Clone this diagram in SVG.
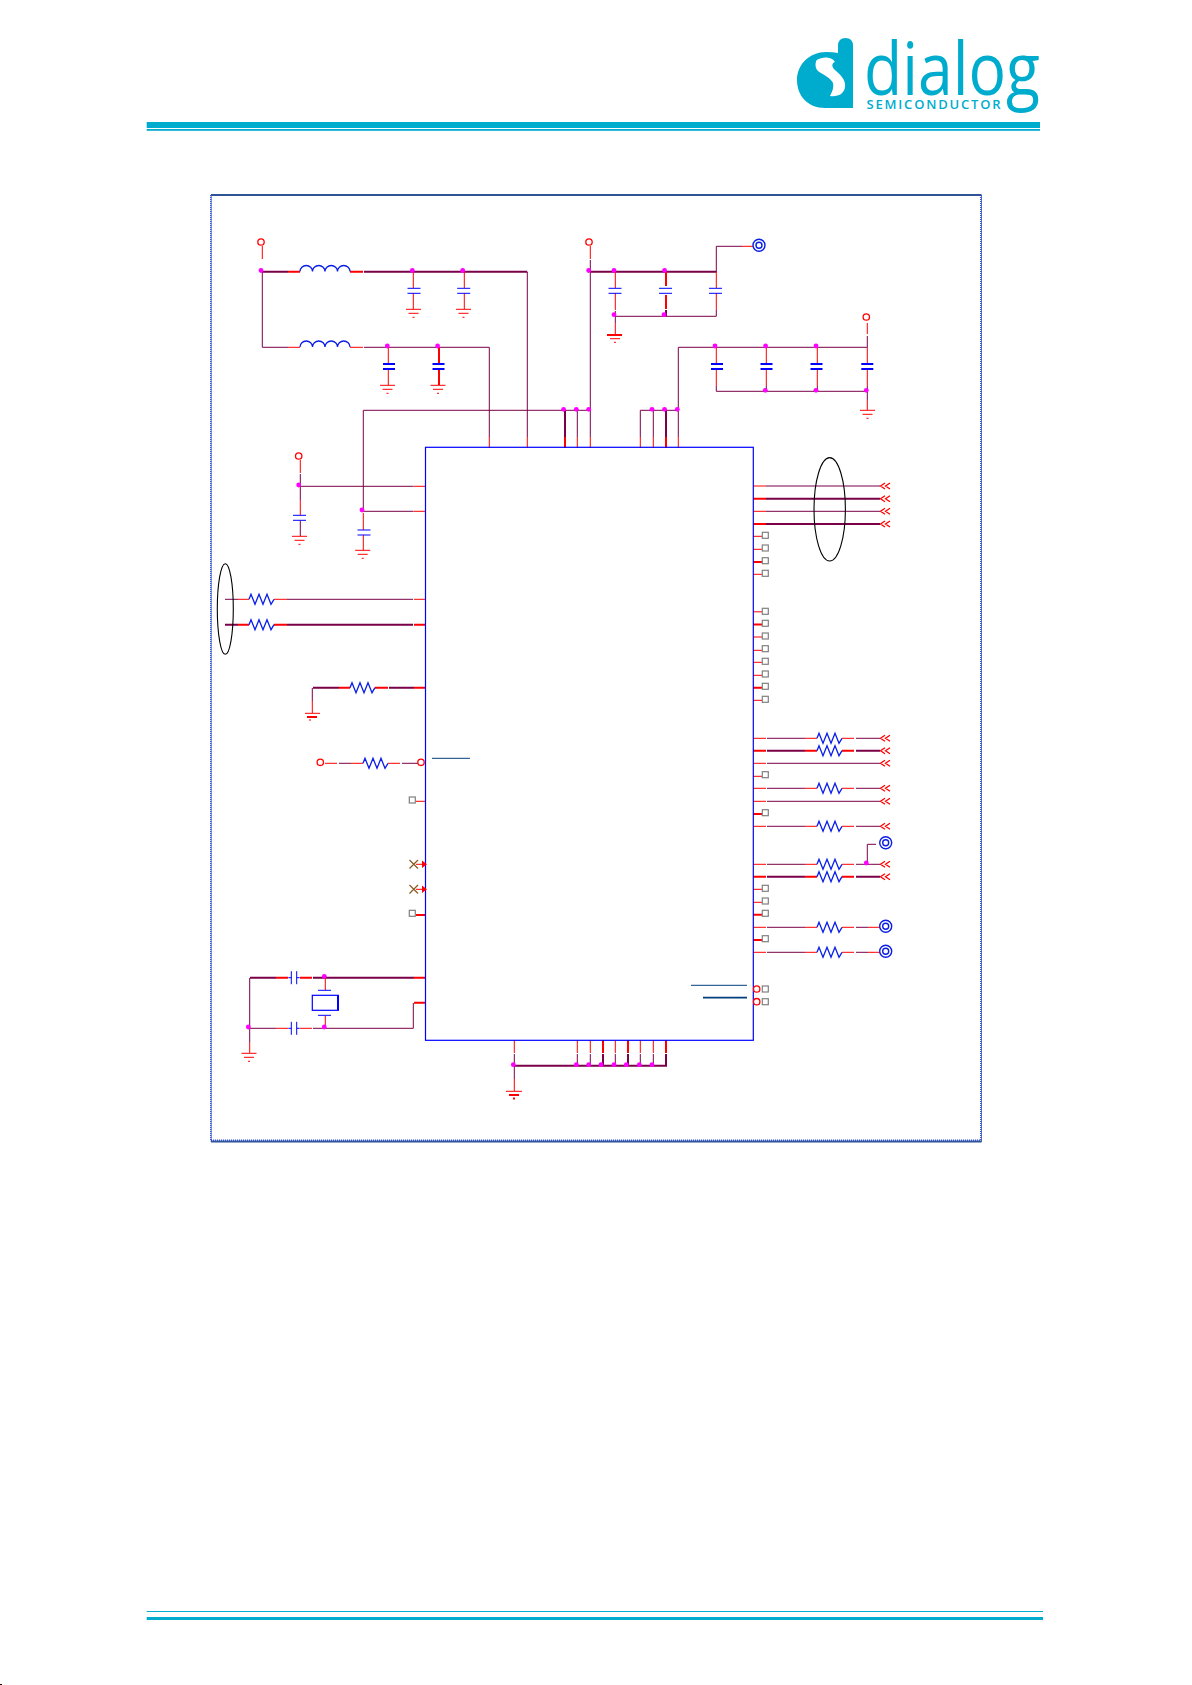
<svg xmlns="http://www.w3.org/2000/svg" xmlns:xlink="http://www.w3.org/1999/xlink" width="1192" height="1685" viewBox="0 0 1192 1685">
<style>
path,line,rect,circle,ellipse{fill:none}
.w{stroke:#7a0048;stroke-width:1}
.W{stroke:#7a0048;stroke-width:2}
.r{stroke:#f00;stroke-width:1}
.R{stroke:#f00;stroke-width:2}
.b{stroke:#00f;stroke-width:1}
.B{stroke:#00f;stroke-width:2}
.z{stroke:#0a1ee6;stroke-width:1.3}
.dot{fill:#f0f;stroke:none}
.term{stroke:#f00;stroke-width:1.3;fill:#fff}
.sq{stroke:#808080;stroke-width:1.2;fill:#fff}
.nb{stroke:#003f7f}
.teal{fill:#00acce}
.ell{stroke:#000;stroke-width:1.1}
</style>
<defs>
<path id="res" class="z" d="M0 0L2 -5L6 5L10 -5L14 5L18 -5L22 5L25 0"/>
<path id="ind" class="z" d="M0 0a6.25 6 0 0 1 12.5 0a6.25 6 0 0 1 12.5 0a6.25 6 0 0 1 12.5 0a6.25 6 0 0 1 12.5 0"/>
<path id="cap" class="b" d="M-6.5 0H6.5M-6.5 5H6.5"/>
<path id="capT" class="B" d="M-6 0H6M-6 5H6"/>
<path id="capH" class="b" d="M0 -6.5V6.5M5.4 -6.5V6.5M-3 0H0M5.4 0H8.4"/>
<path id="gnd" class="r" d="M-7.5 0H7.5M-5 4H5M-1 8H1"/>
<path id="chev" class="r" style="stroke-width:1.3" d="M5 -3L0.5 0L5 3M10 -3L5.5 0L10 3"/>
<g id="tgt"><circle class="z" r="6" style="stroke-width:1.4"/><circle class="z" r="3" style="stroke-width:1.4"/></g>
<rect id="sq" class="sq" x="-3" y="-3" width="6" height="6"/>
</defs>

<g id="header">
<rect class="teal" x="146.7" y="122" width="893.3" height="6"/>
<rect class="teal" x="146.7" y="129" width="893.3" height="1.8"/>
</g>
<g id="logo">
<path class="teal" fill-rule="evenodd" d="M838 46Q838 38 845.5 38Q853 38 853 46V108H825C808 108 797 96 797 80C797 64 810 52 826 52Q833 52 838 53ZM816.7 60C822 57 831 56 835 62C831 63 832 68 835 70C842 76 846 81 845 87C844 94 838 97 830 96C832 92 834 88 833 83C831 78 822 74 818 71C815 68 815 63 816.7 60Z"/>
<text class="teal" x="864" y="95" font-family="'Open Sans',sans-serif" font-size="73" textLength="176" lengthAdjust="spacingAndGlyphs">dialog</text>
<text class="teal" x="866.5" y="109.3" font-family="'Open Sans',sans-serif" font-size="13" font-weight="600" textLength="134" lengthAdjust="spacing">SEMICONDUCTOR</text>
</g>
<g id="footer">
<rect class="teal" x="146.7" y="1611" width="896.3" height="1"/>
<rect class="teal" x="146.7" y="1617" width="896.3" height="3"/>
<rect x="0" y="1684" width="2" height="1" style="fill:#200"/>
</g>
<g id="frame">
<path d="M211 195H981.5M211 1141.5H981.5" stroke="#2f5496" stroke-width="2"/>
<path d="M211.2 195V1142M981.5 195V1142" stroke="#2f5496" stroke-width="0.8"/>
<path d="M210.8 195V1141M980.7 195V1141M211 1140.2H981" stroke="#1a3fe8" stroke-width="1.2" stroke-dasharray="1 1"/>
</g>

<g id="connectors">
<path class="w" d="M262.3 272V347.3H288M364 347.3H489.3V437M527.3 272V437M363.3 511.3V410.3H590.3M590.3 260V437M577.3 410.3V437M640.3 437V410.3H678.3M653.3 410.3V437M678.3 437V347.3H867.3M867.3 336V347.3M716.3 272V246.3H742M615.3 316.3H716.3V310M716.3 391.3H867.3M615.3 311V323M716.3 386V391.3M766.3 386V391.3M817.3 386V391.3M867.3 386V400"/>
<path class="W" d="M262.3 271.7H288M364 271.7H527.3M590.3 271.7H716.3M565 410.3V437M666 410.3V437M666 310V316"/>
<path class="r" d="M262.3 246V259M590.3 246V259M867.3 323V334M489.3 437V448M527.3 437V448M577.3 437V448M590.3 437V448M640.3 437V448M653.3 437V448M678.3 437V448M742 246.3H753M413.3 272V288M413.3 293V309M464.3 272V288M464.3 293V309M388.3 347.3V364M388.3 369V385M615.3 272V288M615.3 293V310M615.3 323V335M716.3 272V288M716.3 293V310M716.3 347.3V364M716.3 369V386M766.3 347.3V364M766.3 369V386M817.3 347.3V364M817.3 369V386M867.3 347.3V364M867.3 369V386M867.3 400V410"/>
<path class="R" d="M288 271.7H300M350 271.7H363M565 437V448M666 437V448M439 347.3V364M439 369V385M666 272V286M666 295V309"/>
<path class="r" d="M288 347.3H300M350 347.3H363"/>

<path class="w" d="M300.3 474V500M300.3 520.7V536M300.3 486.3H413.7M363.3 511.3H413.7"/>
<path class="r" d="M300.3 460V473M300.3 500V515M363.3 513V530M363.3 535V550M414 486.3H426M414 511.3H426"/>

<path class="w" d="M225 599.3H238M287 599.3H413M339 763.3H351M402 763.3H418M312.3 688V701"/>
<path class="r" d="M238 599.3H249M274 599.3H287M414 599.3H426M325 763.3H337M351 763.3H363M388 763.3H400M312.3 701V713M416 801.3H426M416 864.3H423M416 889.3H423"/>
<path class="W" d="M225 624.7H238M287 624.7H413M313 687.7H339M389 687.7H414"/>
<path class="R" d="M238 624.7H249M274 624.7H287M414 624.7H426M339 687.7H350M375 687.7H388M414 687.7H426M416 915H426"/>

<path class="W" d="M250 977.7H276M313 977.7H414"/>
<path class="R" d="M276 977.7H288M300 977.7H312M414 977.7H426M414 1002.7H426"/>
<path class="w" d="M249.7 978V1042M250 1028.3H276M313 1028.3H413.3V1003"/>
<path class="r" d="M276 1028.3H288M300 1028.3H312M325.3 978V990M325.3 1016V1028M249.7 1042V1053"/>

<path class="r" d="M514.3 1040V1053M577.3 1040V1053M590.3 1040V1053M615.3 1040V1053M640.3 1040V1053M653.3 1040V1053M514.3 1079V1091"/>
<path class="R" d="M603 1040V1053M628 1040V1053M666 1040V1053"/>
<path class="w" d="M514.3 1054V1079M577.3 1054V1065M590.3 1054V1065M615.3 1054V1065M640.3 1054V1065M653.3 1054V1065"/>
<path class="W" d="M514 1065.7H666V1054M603 1054V1065M628 1054V1065"/>

<path class="w" d="M766 486H880M766 511.3H880"/>
<path class="W" d="M766 498.7H880M766 524H880"/>
<path class="r" d="M753 486H766M753 511.3H766M753 536.3H762M753 549.3H762M753 574.3H762M753 611.8H762M753 637H762M753 650.3H762M753 662.3H762M753 675.3H762M753 700.3H762"/>
<path class="R" d="M753 498.7H766M753 524H766M753 562H762M753 624.6H762M753 687.7H762"/>

<path class="r" d="M753 738.3H766M805 738.3H817M842 738.3H854M753 763.3H766M753 776.3H762M753 788.3H766M805 788.3H817M842 788.3H854M753 801.3H766M753 826.3H766M805 826.3H817M842 826.3H854M753 864.3H766M805 864.3H817M842 864.3H854M753 889.3H762M753 902.3H762M753 927.3H766M805 927.3H817M842 927.3H854M868 927.3H880M753 952.3H766M805 952.3H817M842 952.3H854M868 952.3H880"/>
<path class="w" d="M767 738.3H805M856 738.3H880M767 763.3H880M767 788.3H805M856 788.3H880M767 801.3H880M767 826.3H805M856 826.3H880M767 864.3H805M856 864.3H880M867.3 864.3V844.3H876M767 927.3H805M856 927.3H868M767 952.3H805M856 952.3H868"/>
<path class="R" d="M753 750.7H766M805 750.7H817M842 750.7H854M753 814H762M753 876.7H766M805 876.7H817M842 876.7H854M753 914.7H762M753 940H762"/>
<path class="W" d="M767 750.7H805M856 750.7H880M767 876.7H805M856 876.7H880"/>
</g>

<g id="U1"><rect x="425.5" y="447.3" width="327.8" height="593" class="b" style="stroke-width:1.2"/>
<path class="nb" d="M432 758.3H470M691 985.3H747" stroke-width="1"/>
<path class="nb" d="M703 997.7H747" stroke-width="1.8"/>
</g>

<g id="L1"><use href="#ind" x="300" y="271.5"/></g>
<g id="L2"><use href="#ind" x="300" y="347"/></g>

<g id="C1"><use href="#cap" x="414" y="288.3"/><use href="#gnd" x="413.5" y="309.3"/></g>
<g id="C2"><use href="#cap" x="463.7" y="288.3"/><use href="#gnd" x="463.5" y="309.3"/></g>
<g id="C3"><use href="#capT" x="389" y="364"/><use href="#gnd" x="387.5" y="385.3"/></g>
<g id="C4"><use href="#capT" x="438.5" y="364"/><use href="#gnd" x="438" y="385.3"/></g>
<g id="C5"><use href="#cap" x="615" y="288.3"/></g>
<g id="C6"><use href="#cap" x="665.5" y="288.3"/></g>
<g id="C7"><use href="#cap" x="715.5" y="288.3"/></g>
<g id="G1"><path class="R" d="M607 335H622"/><path class="r" d="M610 338.7H620M614 342.3H616"/></g>
<g id="C8"><use href="#capT" x="717" y="364"/></g>
<g id="C9"><use href="#capT" x="766.5" y="364"/></g>
<g id="C10"><use href="#capT" x="816.5" y="364"/></g>
<g id="C11"><use href="#capT" x="867.3" y="364"/><use href="#gnd" x="867.5" y="410.3"/></g>
<g id="C12"><use href="#cap" x="299.5" y="515.3"/><use href="#gnd" x="299.5" y="536.3"/></g>
<g id="C13"><use href="#cap" x="364" y="530"/><use href="#gnd" x="362.7" y="550.3"/></g>

<g id="R1"><use href="#res" x="249" y="599.3"/></g>
<g id="R2"><use href="#res" x="249" y="624.7"/></g>
<g id="R3"><use href="#res" x="350" y="687.7"/></g>
<g id="G2"><path class="r" d="M305 713.3H320M309 720H311"/><path class="R" d="M307 717H317"/></g>
<g id="R4"><use href="#res" x="363" y="763.3"/></g>
<g id="R5"><use href="#res" x="817" y="738.3"/></g>
<g id="R6"><use href="#res" x="817" y="750.7"/></g>
<g id="R7"><use href="#res" x="817" y="788.3"/></g>
<g id="R8"><use href="#res" x="817" y="826.3"/></g>
<g id="R9"><use href="#res" x="817" y="864.3"/></g>
<g id="R10"><use href="#res" x="817" y="876.7"/></g>
<g id="R11"><use href="#res" x="817" y="927.3"/></g>
<g id="R12"><use href="#res" x="817" y="952.3"/></g>

<g id="X1">
<use href="#capH" x="291.3" y="977.7"/><use href="#capH" x="291.3" y="1028.3"/>
<path class="b" d="M318 990.3H331M318 1015.3H331"/>
<rect class="b" x="312.3" y="995.3" width="26" height="15" style="stroke-width:1.2"/>
<path class="B" d="M338 995.3V1010.3"/>
<use href="#gnd" x="249" y="1053.3"/>
</g>
<g id="G3"><path class="r" d="M506 1091.3H522"/><path class="R" d="M509 1095H519"/><path class="R" d="M513 1098.6H515"/></g>

<g id="terminals">
<circle class="term" cx="261" cy="242" r="3.2"/>
<circle class="term" cx="589" cy="242" r="3.2"/>
<circle class="term" cx="866.3" cy="317" r="3.2"/>
<circle class="term" cx="298.7" cy="456" r="3.2"/>
<circle class="term" cx="320.3" cy="762.3" r="3.2"/>
<circle class="term" cx="421" cy="762.3" r="3.2"/>
<circle class="term" cx="756.7" cy="989" r="3.2"/>
<circle class="term" cx="756.7" cy="1001.7" r="3.2"/>
</g>
<g id="targets">
<use href="#tgt" x="759" y="245.3"/><use href="#tgt" x="885.7" y="842.7"/><use href="#tgt" x="885.7" y="926.3"/><use href="#tgt" x="885.7" y="951.3"/>
</g>
<g id="arrows">
<use href="#chev" x="880" y="486"/><use href="#chev" x="880" y="498.7"/><use href="#chev" x="880" y="511.3"/><use href="#chev" x="880" y="524"/>
<use href="#chev" x="880" y="738.3"/><use href="#chev" x="880" y="750.7"/><use href="#chev" x="880" y="763.3"/><use href="#chev" x="880" y="788.3"/><use href="#chev" x="880" y="801.3"/><use href="#chev" x="880" y="826.3"/><use href="#chev" x="880" y="864.3"/><use href="#chev" x="880" y="876.7"/>
</g>
<g id="no-connect">
<use href="#sq" x="412.3" y="800"/><use href="#sq" x="412.3" y="913.3"/>
<use href="#sq" x="765.3" y="535.3"/><use href="#sq" x="765.3" y="548"/><use href="#sq" x="765.3" y="560.7"/><use href="#sq" x="765.3" y="573.3"/>
<use href="#sq" x="765.3" y="611.3"/><use href="#sq" x="765.3" y="623.3"/><use href="#sq" x="765.3" y="636"/><use href="#sq" x="765.3" y="648.7"/><use href="#sq" x="765.3" y="661.3"/><use href="#sq" x="765.3" y="674"/><use href="#sq" x="765.3" y="686.3"/><use href="#sq" x="765.3" y="699.3"/>
<use href="#sq" x="765.3" y="774.7"/><use href="#sq" x="765.3" y="812.7"/><use href="#sq" x="765.3" y="888.3"/><use href="#sq" x="765.3" y="901"/><use href="#sq" x="765.3" y="913.3"/><use href="#sq" x="765.3" y="938.7"/><use href="#sq" x="765.3" y="989"/><use href="#sq" x="765.3" y="1001.7"/>
<path d="M409.5 860L418 868.5M418 860L409.5 868.5M409.5 885L418 893.5M418 885L409.5 893.5" stroke="#8b5a1e" stroke-width="1.2"/>
<path d="M422 860.5L427 864.3L422 868ZM422 885.5L427 889.3L422 893Z" style="fill:#f00"/>
</g>
<g id="bus-ellipses">
<ellipse class="ell" cx="225.3" cy="609" rx="8" ry="45.3"/>
<ellipse class="ell" cx="829.7" cy="509.3" rx="15.7" ry="51.7"/>
</g>
<g id="junctions">
<circle class="dot" cx="261" cy="270.5" r="2.4"/><circle class="dot" cx="412.3" cy="270.5" r="2.4"/><circle class="dot" cx="462.7" cy="270.5" r="2.4"/>
<circle class="dot" cx="387.3" cy="346" r="2.4"/><circle class="dot" cx="437.6" cy="346" r="2.4"/>
<circle class="dot" cx="563.6" cy="409.3" r="2.4"/><circle class="dot" cx="576.3" cy="409.3" r="2.4"/><circle class="dot" cx="588.7" cy="409.3" r="2.4"/>
<circle class="dot" cx="588.7" cy="270.5" r="2.4"/><circle class="dot" cx="614" cy="270.5" r="2.4"/><circle class="dot" cx="664.6" cy="270.5" r="2.4"/>
<circle class="dot" cx="614" cy="314.7" r="2.4"/><circle class="dot" cx="664" cy="314.7" r="2.4"/>
<circle class="dot" cx="652" cy="409.3" r="2.4"/><circle class="dot" cx="664.6" cy="409.3" r="2.4"/><circle class="dot" cx="677.3" cy="409.3" r="2.4"/>
<circle class="dot" cx="715" cy="346" r="2.4"/><circle class="dot" cx="765.6" cy="346" r="2.4"/><circle class="dot" cx="816" cy="346" r="2.4"/>
<circle class="dot" cx="765.3" cy="390.3" r="2.4"/><circle class="dot" cx="816" cy="390.3" r="2.4"/><circle class="dot" cx="866.3" cy="390.3" r="2.4"/>
<circle class="dot" cx="298.7" cy="485" r="2.4"/><circle class="dot" cx="362" cy="510" r="2.4"/>
<circle class="dot" cx="324.3" cy="976.3" r="2.4"/><circle class="dot" cx="324.3" cy="1027" r="2.4"/><circle class="dot" cx="248.3" cy="1027" r="2.4"/>
<circle class="dot" cx="513.3" cy="1064.7" r="2.4"/><circle class="dot" cx="576.3" cy="1064.7" r="2.4"/><circle class="dot" cx="588.7" cy="1064.7" r="2.4"/><circle class="dot" cx="601" cy="1064.7" r="2.4"/><circle class="dot" cx="614" cy="1064.7" r="2.4"/><circle class="dot" cx="626.3" cy="1064.7" r="2.4"/><circle class="dot" cx="639.3" cy="1064.7" r="2.4"/><circle class="dot" cx="652" cy="1064.7" r="2.4"/>
<circle class="dot" cx="866.3" cy="863" r="2.4"/>
</g>
</svg>
